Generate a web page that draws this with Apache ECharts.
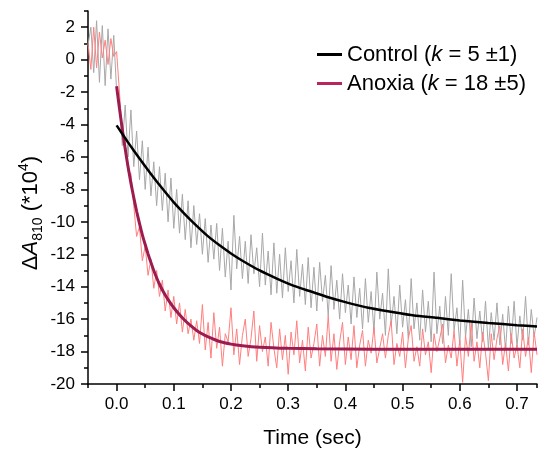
<!DOCTYPE html>
<html>
<head>
<meta charset="utf-8">
<script src="https://cdn.jsdelivr.net/npm/echarts@6/dist/echarts.min.js"></script>
<style>
html,body{margin:0;padding:0;background:#fff;}
#chart{width:540px;height:454px;}
</style>
</head>
<body>
<div id="chart"></div>
<script>
// ---- data ----
const sampleStart = -0.05;
const sampleStep = 0.005;
const controlRaw = [
0.9, 2.0, -0.8, 2.4, -1.4, 2.1, -1.6, 1.9, -1.2, 1.5,
-1.9, -2.6, -5.3, -2.8, -6.0, -3.1, -6.6, -4.4, -7.4, -5.0,
-8.0, -5.4, -8.4, -6.3, -9.0, -6.6, -9.3, -7.0, -10.0, -7.3,
-10.4, -8.0, -10.7, -8.3, -11.1, -8.7, -11.6, -9.0, -11.4, -9.5,
-12.0, -9.8, -12.5, -10.2, -12.3, -10.1, -13.0, -10.4, -13.4, -11.2,
-14.2, -9.6, -12.9, -10.9, -13.5, -11.2, -13.8, -10.8, -13.2, -11.6,
-14.0, -10.7, -13.9, -11.8, -14.5, -11.3, -14.4, -12.0, -14.7, -11.6,
-14.3, -12.4, -15.0, -11.7, -14.6, -12.6, -15.1, -12.2, -15.3, -12.8,
-15.5, -12.5, -14.9, -13.3, -15.8, -12.7, -15.4, -13.6, -16.0, -13.2,
-15.6, -13.9, -16.3, -13.4, -15.9, -14.1, -16.6, -13.5, -16.2, -14.3,
-16.8, -13.1, -16.0, -14.4, -17.0, -12.9, -16.4, -14.6, -16.9, -13.9,
-16.5, -14.8, -17.2, -13.5, -16.6, -15.0, -17.3, -14.2, -16.8, -14.9,
-17.4, -13.1, -16.9, -15.2, -17.5, -14.6, -17.0, -13.2, -16.7, -15.3,
-17.6, -13.6, -17.1, -15.4, -17.7, -14.7, -17.2, -15.5, -17.4, -14.9,
-17.8, -15.6, -17.3, -15.0, -17.6, -15.7, -17.9, -15.2, -17.5, -14.9,
-17.7, -15.8, -17.3, -14.6, -17.6, -15.4, -17.1, -15.9
];
const anoxiaRaw = [
1.0, -0.6, 2.0, -0.5, 1.7, 0.1, 1.2, -0.3, 1.3, 0.2,
0.5, -2.0, -4.6, -5.0, -6.9, -7.0, -9.0, -10.9, -10.3, -12.4,
-11.5, -13.3, -12.3, -14.1, -13.0, -14.6, -13.6, -15.5, -14.2, -15.9,
-14.6, -16.3, -15.0, -16.8, -15.4, -16.9, -16.0, -17.3, -16.1, -17.5,
-15.1, -17.9, -16.2, -18.4, -15.6, -17.8, -16.5, -18.9, -16.9, -17.4,
-15.3, -18.2, -16.6, -18.8, -17.0, -16.0, -18.3, -17.2, -15.5, -18.6,
-16.4, -18.0, -17.1, -18.9, -16.2, -17.8, -19.0, -16.6, -18.5, -17.0,
-19.4, -16.8, -18.2, -16.1, -18.7, -17.3, -19.2, -16.5, -18.4, -17.5,
-16.3, -18.9, -17.0, -18.3, -15.8, -18.6, -16.9, -19.1, -17.4, -16.2,
-18.8, -17.1, -18.5, -16.4, -19.0, -17.6, -16.7, -18.9, -17.3, -18.1,
-16.5, -18.7, -17.8, -16.9, -18.4, -17.0, -16.1, -18.8, -17.5, -18.3,
-16.8, -19.0, -17.2, -16.4, -18.6, -17.7, -18.9, -16.6, -18.2, -17.4,
-19.3, -16.9, -18.0, -17.2, -16.3, -18.7, -17.6, -18.4, -16.7, -18.9,
-17.3, -19.9, -17.0, -18.3, -16.2, -18.6, -17.4, -19.0, -16.8, -18.1,
-19.8, -16.9, -18.5, -17.2, -16.4, -18.8, -17.5, -19.2, -16.9, -18.4,
-17.6, -19.0, -16.6, -18.3, -17.1, -19.3, -16.8, -18.2
];
const controlFitT = [0, 0.02, 0.04, 0.06, 0.08, 0.10, 0.12, 0.14, 0.16, 0.18, 0.20, 0.22, 0.25, 0.28, 0.31, 0.34, 0.37, 0.40, 0.44, 0.48, 0.52, 0.56, 0.60, 0.65, 0.70, 0.735];
const controlFitV = [-4.05, -5.1, -6.1, -7.05, -7.95, -8.8, -9.55, -10.25, -10.9, -11.45, -11.95, -12.4, -13.0, -13.5, -13.95, -14.3, -14.65, -14.95, -15.3, -15.55, -15.78, -15.92, -16.08, -16.24, -16.37, -16.45];
const anoxiaFitT = [0, 0.005, 0.01, 0.015, 0.02, 0.025, 0.03, 0.035, 0.04, 0.045, 0.05, 0.055, 0.06, 0.065, 0.07, 0.075, 0.08, 0.09, 0.10, 0.11, 0.12, 0.13, 0.14, 0.15, 0.16, 0.18, 0.20, 0.22, 0.25, 0.30, 0.35, 0.45, 0.735];
const anoxiaFitV = [-1.64, -3.0, -4.3, -5.5, -6.6, -7.6, -8.5, -9.35, -10.1, -10.8, -11.4, -11.98, -12.5, -13.0, -13.45, -13.85, -14.2, -14.8, -15.3, -15.73, -16.1, -16.42, -16.7, -16.92, -17.1, -17.38, -17.54, -17.64, -17.73, -17.8, -17.83, -17.85, -17.85];
const xMajorTicks = [0, 0.1, 0.2, 0.3, 0.4, 0.5, 0.6, 0.7];
const yMajorTicks = [-20, -18, -16, -14, -12, -10, -8, -6, -4, -2, 0, 2];
const legendNames = ['Control', 'Anoxia'];
const legendK = ['5 ±1', '18 ±5'];

// ---- build ----
const FONT = '"Liberation Sans", Arial, sans-serif';
const pairs = (arr) => arr.map((v, i) => [+(sampleStart + i * sampleStep).toFixed(4), v]);
const zip = (t, v) => t.map((x, i) => [x, v[i]]);
const isMajor = (v, list) => list.some(m => Math.abs(m - v) < 1e-6);

const tickStyle = { color: '#000', width: 1.5 };
const chart = echarts.init(document.getElementById('chart'), null, { renderer: 'canvas' });
chart.setOption({
  animation: false,
  backgroundColor: '#fff',
  grid: { left: 88, right: 0, top: 11, bottom: 67, containLabel: false },
  xAxis: [{
    type: 'value', min: -0.05, max: 0.735, interval: 0.05,
    axisLine: { show: true, onZero: false, lineStyle: tickStyle },
    axisTick: { show: true, length: 4, lineStyle: tickStyle },
    axisLabel: {
      margin: 12, fontSize: 17, color: '#000', fontFamily: FONT,
      formatter: v => isMajor(v, xMajorTicks) ? v.toFixed(1) : ''
    },
    splitLine: { show: false },
    name: 'Time (sec)', nameLocation: 'middle', nameGap: 44,
    nameTextStyle: { fontSize: 21, color: '#000', fontFamily: FONT }
  }, {
    type: 'value', min: -0.05, max: 0.735, position: 'bottom',
    axisLine: { show: false, onZero: false },
    axisTick: { show: true, length: 7, customValues: xMajorTicks, lineStyle: tickStyle },
    axisLabel: { show: false },
    splitLine: { show: false }
  }],
  yAxis: [{
    type: 'value', min: -20, max: 3, interval: 1,
    axisLine: { show: true, onZero: false, lineStyle: tickStyle },
    axisTick: { show: true, length: 4, lineStyle: tickStyle },
    axisLabel: {
      margin: 13, fontSize: 17, color: '#000', fontFamily: FONT,
      formatter: v => isMajor(v, yMajorTicks) ? String(v) : ''
    },
    splitLine: { show: false }
  }, {
    type: 'value', min: -20, max: 3, position: 'left',
    axisLine: { show: false, onZero: false },
    axisTick: { show: true, length: 7, customValues: yMajorTicks, lineStyle: tickStyle },
    axisLabel: { show: false },
    splitLine: { show: false }
  }],
  legend: {
    data: legendNames,
    orient: 'vertical', left: 317, top: 42.5, padding: 0,
    icon: 'rect', itemWidth: 25, itemHeight: 3, itemGap: 5,
    textStyle: {
      fontSize: 22, lineHeight: 24, color: '#000', fontFamily: FONT,
      rich: { k: { fontStyle: 'italic', fontSize: 22, fontFamily: FONT, color: '#000' } }
    },
    formatter: name => {
      const i = legendNames.indexOf(name);
      return name + ' ({k|k} = ' + legendK[i] + ')';
    }
  },
  graphic: [{
    type: 'text', x: 31, y: 213, rotation: Math.PI / 2, silent: true,
    style: {
      text: '{n|Δ}{a|A}{s|810}{n| (*10}{p|4}{n|)}',
      align: 'center', verticalAlign: 'middle',
      fill: '#000', fontSize: 22, fontFamily: FONT,
      rich: {
        n: { fontSize: 22, lineHeight: 28, fontFamily: FONT, fill: '#000' },
        a: { fontSize: 22, lineHeight: 28, fontStyle: 'italic', fontFamily: FONT, fill: '#000' },
        s: { fontSize: 14, lineHeight: 14, verticalAlign: 'bottom', fontFamily: FONT, fill: '#000' },
        p: { fontSize: 14, lineHeight: 14, verticalAlign: 'top', fontFamily: FONT, fill: '#000' }
      }
    }
  }],
  series: [{
    name: 'Control raw', type: 'line', data: pairs(controlRaw),
    showSymbol: false, symbol: 'none', z: 2,
    lineStyle: { color: '#a8a8a8', width: 1 }, itemStyle: { color: '#a8a8a8' }
  }, {
    name: 'Anoxia raw', type: 'line', data: pairs(anoxiaRaw),
    showSymbol: false, symbol: 'none', z: 3,
    lineStyle: { color: '#ff7f7f', width: 1 }, itemStyle: { color: '#ff7f7f' }
  }, {
    name: 'Anoxia', type: 'line', data: zip(anoxiaFitT, anoxiaFitV), smooth: 0.2,
    showSymbol: false, symbol: 'none', z: 4,
    lineStyle: { color: '#9c1c50', width: 3 }, itemStyle: { color: '#b8265f' }
  }, {
    name: 'Control', type: 'line', data: zip(controlFitT, controlFitV), smooth: 0.2,
    showSymbol: false, symbol: 'none', z: 5,
    lineStyle: { color: '#000', width: 2.5 }, itemStyle: { color: '#000' }
  }]
});
</script>
</body>
</html>
